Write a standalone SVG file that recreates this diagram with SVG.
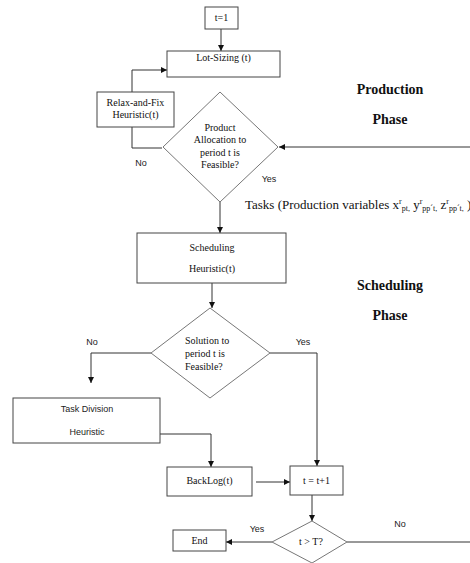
<svg xmlns="http://www.w3.org/2000/svg" width="470" height="563" viewBox="0 0 470 563">
<defs>
<marker id="ah" viewBox="0 0 10 10" refX="10" refY="5" markerWidth="6" markerHeight="6" orient="auto" markerUnits="userSpaceOnUse">
<path d="M0,0 L10,5 L0,10 z" fill="#111"/>
</marker>
<style>
.box{fill:#fff;stroke:#444;stroke-width:1}
.dia{fill:#fff;stroke:#777;stroke-width:1}
.ln{fill:none;stroke:#333;stroke-width:1}
.ar{fill:none;stroke:#333;stroke-width:1;marker-end:url(#ah)}
.s{font-family:"Liberation Serif","Times New Roman",serif;font-size:10px;fill:#111;text-anchor:middle}
.sl{font-family:"Liberation Serif","Times New Roman",serif;font-size:10px;fill:#111}
.ss{font-family:"Liberation Sans",Arial,sans-serif;font-size:9px;fill:#222;text-anchor:middle}
.ph{font-family:"Liberation Serif","Times New Roman",serif;font-size:14px;font-weight:bold;fill:#111;text-anchor:middle}
.tk{font-family:"Liberation Serif","Times New Roman",serif;font-size:13px;fill:#111}
.sup{font-size:8px}
</style>
</defs>
<rect width="470" height="563" fill="#fff"/>
<g id="connectors">
<line class="ar" x1="221" y1="29" x2="221" y2="51"/>
<polyline class="ar" points="132,92 132,70 167,70"/>
<polyline class="ln" points="132,127 132,148 162,148"/>
<line class="ar" x1="470" y1="147" x2="279" y2="147"/>
<line class="ar" x1="220" y1="202" x2="220" y2="233"/>
<line class="ar" x1="212" y1="283" x2="212" y2="308"/>
<polyline class="ar" points="151,353 91,353 91,383"/>
<polyline class="ar" points="270,353 317,353 317,466"/>
<polyline class="ar" points="160,434 211,434 211,467"/>
<line class="ar" x1="256" y1="482" x2="290" y2="482"/>
<line class="ar" x1="312" y1="495" x2="312" y2="521"/>
<line class="ar" x1="272" y1="542" x2="226" y2="542"/>
<line class="ln" x1="347" y1="542" x2="470" y2="542"/>
</g>
<g id="n-t1"><rect class="box" x="205" y="7" width="33" height="22"/><text class="s" x="221.5" y="21">t=1</text></g>
<g id="n-lotsizing"><rect class="box" x="167" y="51" width="113" height="26"/><text class="s" x="223.5" y="61">Lot-Sizing (t)</text></g>
<g id="n-relax"><rect class="box" x="97" y="92" width="77" height="35"/><text class="s" x="135.5" y="106">Relax-and-Fix</text><text class="s" x="135.5" y="118">Heuristic(t)</text></g>
<g id="n-product"><polygon class="dia" points="220,92 278,147 220,202 163,147"/><text class="s" x="220" y="131">Product</text><text class="s" x="220" y="143">Allocation to</text><text class="s" x="220" y="156">period t is</text><text class="s" x="220" y="168">Feasible?</text></g>
<g id="labels1"><text class="ss" x="141" y="166">No</text><text class="ss" x="269" y="182">Yes</text></g>
<g id="phase-prod"><text class="ph" x="390" y="94">Production</text><text class="ph" x="390" y="124">Phase</text></g>
<g id="tasks"><text class="tk" x="245" y="209">Tasks (Production variables x<tspan class="sup" dy="-5">r</tspan><tspan class="sup" dy="7">pt,</tspan><tspan dy="-2"> y</tspan><tspan class="sup" dy="-5">r</tspan><tspan class="sup" dy="7">pp´t,</tspan><tspan dy="-2"> z</tspan><tspan class="sup" dy="-5">r</tspan><tspan class="sup" dy="7">pp´t,</tspan><tspan dy="-2"> )</tspan></text></g>
<g id="n-scheduling"><rect class="box" x="137" y="233" width="149" height="50"/><text class="s" x="212" y="251">Scheduling</text><text class="s" x="212" y="272">Heuristic(t)</text></g>
<g id="phase-sched"><text class="ph" x="390" y="290">Scheduling</text><text class="ph" x="390" y="320">Phase</text></g>
<g id="n-solution"><polygon class="dia" points="210,308 270,353 210,398 151,353"/><text class="sl" x="185" y="344">Solution to</text><text class="sl" x="185" y="357">period t is</text><text class="sl" x="185" y="370">Feasible?</text></g>
<g id="labels2"><text class="ss" x="92" y="345">No</text><text class="ss" x="303" y="345">Yes</text></g>
<g id="n-taskdiv"><rect class="box" x="13" y="398" width="147" height="45"/><text class="ss" x="87" y="412">Task Division</text><text class="ss" x="87" y="435">Heuristic</text></g>
<g id="n-backlog"><rect class="box" x="167" y="467" width="85" height="29"/><text class="s" x="209.5" y="484">BackLog(t)</text></g>
<g id="n-tinc"><rect class="box" x="290" y="466" width="53" height="29"/><text class="s" x="316.5" y="484">t = t+1</text></g>
<g id="n-tT"><polygon class="dia" points="312,521 347,542 312,563 272,542"/><text class="s" x="311" y="545">t &gt; T?</text></g>
<g id="n-end"><rect class="box" x="173" y="530" width="53" height="21"/><text class="s" x="199.5" y="544">End</text></g>
<g id="labels3"><text class="ss" x="257" y="532">Yes</text><text class="ss" x="400" y="527">No</text></g>
</svg>
